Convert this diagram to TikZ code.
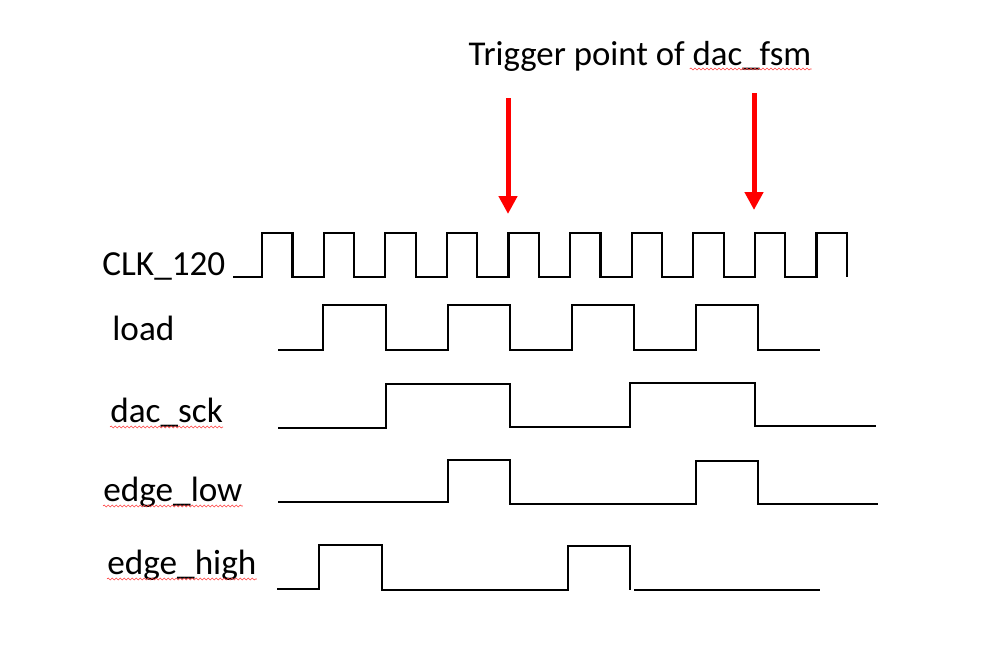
\documentclass[tikz,border=0pt]{standalone}
\usepackage{fontspec}
\setmainfont{Carlito}
\usetikzlibrary{arrows.meta,decorations.pathmorphing}

\tikzset{
  wave/.style={line width=1.1pt, line join=miter},
  trig/.style={red, line width=2.5pt, -{Triangle[width=9pt,length=9pt]}},
  sig/.style={anchor=base west, inner sep=0pt, font=\fontsize{17.6}{20}\selectfont},
  squig/.style={red!75, line width=0.3pt, decorate, decoration={snake, amplitude=0.5pt, segment length=2pt}}
}

\begin{document}
\begin{tikzpicture}[x=0.5pt,y=-0.5pt]
  \useasboundingbox (0,0) rectangle (1000,648);
  % trigger arrows
  \coordinate (T1) at (508,98);  \coordinate (H1) at (508,214);
  \coordinate (T2) at (754,93);  \coordinate (H2) at (754,210);
  \draw[trig] (T1) -- (H1);
  \draw[trig] (T2) -- (H2);
  \node[anchor=base, inner sep=0pt, font=\fontsize{17.4}{20}\selectfont] (title) at (640,65) {Trigger point of dac\_fsm};
  \draw[squig] ([xshift=-61pt,yshift=-2pt]title.base east) -- ([yshift=-2pt]title.base east);
  % signal names
  \node[sig] (clk) at (102,275) {CLK\_120};
  \node[sig] (load) at (112,340) {load};
  \node[sig] (sck) at (110,422) {dac\_sck};
  \node[sig] (elow) at (103,501) {edge\_low};
  \node[sig] (ehigh) at (107,574) {edge\_high};
  \foreach \n in {sck,elow,ehigh}
    \draw[squig] ([yshift=-2.5pt]\n.base west) -- ([yshift=-2.5pt]\n.base east);
  % waveforms
  \draw[wave] (233,277) \foreach \k in {0,...,9}{ -- ({262+61.6*\k},277) |- ({292.5+61.6*\k},233) -- ({292.5+61.6*\k},277)};
  \draw[wave] (278,350) -| (323,305) -| (386,350) -| (448,305) -| (510,350) -| (572,305) -| (634,350) -| (696,305) -| (758,350) -- (820,350);
  \draw[wave] (278,428) -| (386,384) -| (510,427) -| (630,383) -| (755,426) -- (876,426);
  \draw[wave] (278,502) -| (448,460) -| (510,504) -| (696,461) -| (758,504) -- (878,504);
  \draw[wave] (277,589) -| (319,545) -| (382,590) -| (568,546) -| (630,590);
  \draw[wave] (634,590) -- (820,590);
\end{tikzpicture}
\end{document}
